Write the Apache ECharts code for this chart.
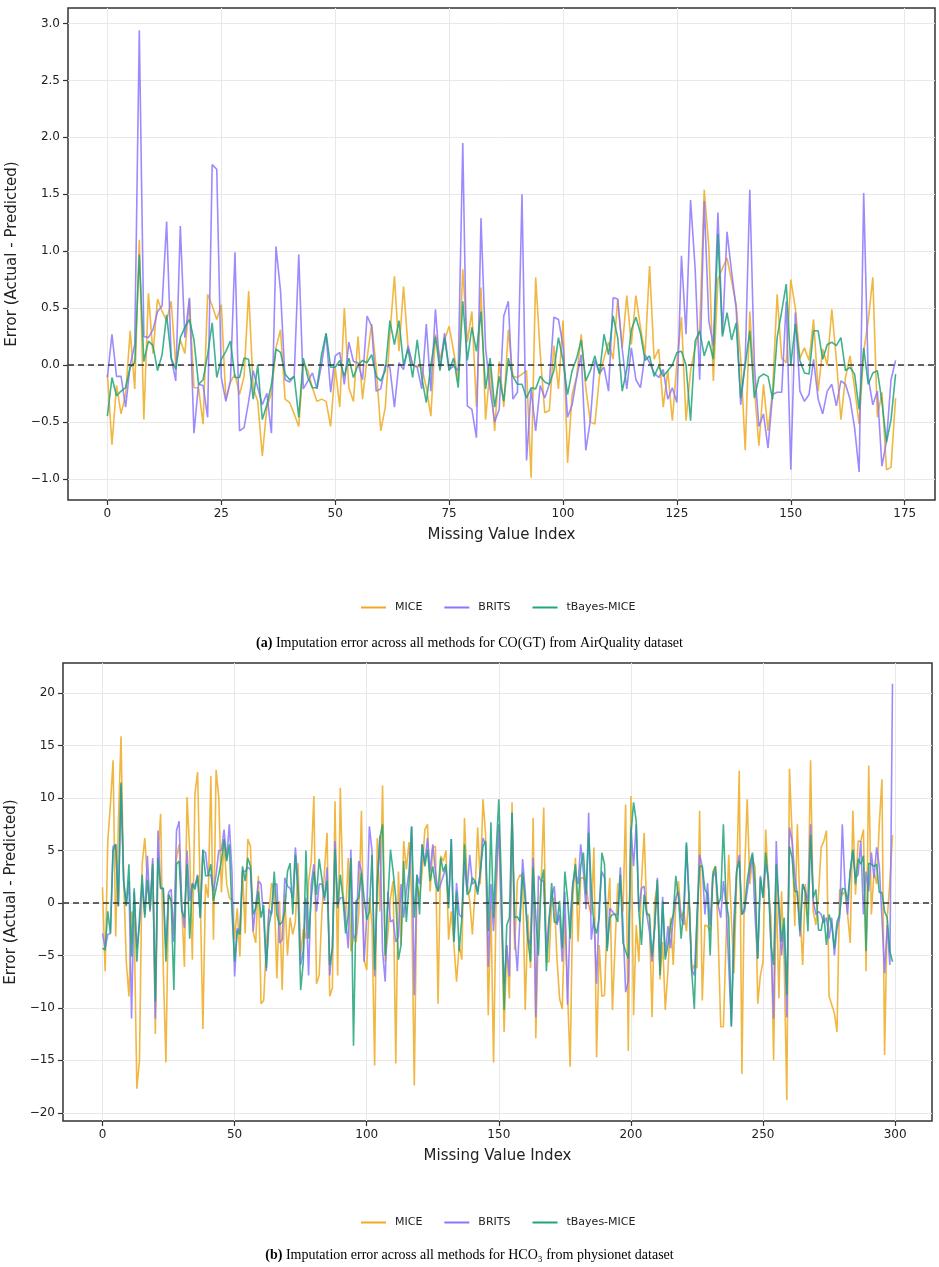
<!DOCTYPE html>
<html>
<head>
<meta charset="utf-8">
<title>Imputation error</title>
<script src="https://cdn.jsdelivr.net/npm/echarts@6/dist/echarts.min.js"></script>
<style>
  html, body { margin: 0; padding: 0; background: #fff; }
  #chart { width: 939px; height: 1267px; }
</style>
</head>
<body>
<div id="chart"></div>
<script>
// (a) CO(GT), AirQuality -- error per missing value index
const miceA = [
  -0.08, -0.70, -0.18, -0.43, -0.26, 0.30, -0.21, 1.10, -0.48, 0.63,
  0.10, 0.58, 0.47, 0.39, 0.56, 0.00, 0.22, 0.10, 0.58, -0.20,
  -0.20, -0.52, 0.62, 0.52, 0.40, 0.53, -0.30, -0.15, -0.08, -0.26,
  -0.10, 0.65, -0.20, -0.32, -0.80, -0.37, -0.25, 0.15, 0.31, -0.30,
  -0.33, -0.43, -0.54, 0.02, -0.05, -0.20, -0.32, -0.30, -0.32, -0.54,
  -0.02, -0.37, 0.50, -0.20, -0.32, 0.25, -0.30, 0.06, 0.36, -0.02,
  -0.58, -0.37, 0.27, 0.78, 0.12, 0.69, 0.15, 0.00, -0.01, -0.02,
  -0.20, -0.45, 0.27, 0.05, 0.22, 0.34, 0.12, -0.14, 0.84, 0.20,
  0.47, -0.37, 0.68, -0.48, -0.02, -0.58, 0.03, -0.37, 0.31, -0.10,
  -0.11, -0.08, -0.05, -0.99, 0.77, 0.10, -0.42, -0.40, 0.17, -0.21,
  0.39, -0.86, -0.26, -0.10, 0.27, -0.20, -0.50, -0.52, -0.10, 0.06,
  0.20, 0.05, 0.58, 0.15, 0.61, 0.18, 0.61, 0.33, 0.09, 0.87,
  0.05, 0.14, -0.37, -0.05, -0.49, 0.02, 0.42, -0.49, -0.05, 0.15,
  0.30, 1.54, 1.04, -0.14, 0.75, 0.85, 0.94, 0.74, 0.53, 0.06,
  -0.75, 0.47, -0.20, -0.71, -0.17, -0.58, -0.23, 0.62, 0.06, 0.02,
  0.75, 0.50, 0.06, 0.15, 0.04, 0.40, -0.23, 0.14, 0.00, 0.49,
  0.05, -0.48, -0.11, 0.08, -0.20, -0.52, 0.12, 0.39, 0.77, -0.46,
  -0.24, -0.92, -0.90, -0.29
];
const britsA = [
  -0.11, 0.27, -0.10, -0.10, -0.37, 0.00, 0.18, 2.94, 0.25, 0.24,
  0.31, 0.47, 0.52, 1.26, 0.06, -0.14, 1.22, 0.24, 0.59, -0.60,
  -0.17, -0.18, -0.46, 1.76, 1.72, -0.11, -0.32, -0.14, 0.99, -0.58,
  -0.55, -0.32, -0.05, -0.20, -0.35, -0.25, -0.60, 1.04, 0.65, -0.13,
  -0.15, -0.10, 0.97, -0.21, -0.14, -0.07, -0.21, 0.00, 0.27, -0.24,
  0.08, 0.11, -0.17, 0.20, 0.03, 0.02, -0.13, 0.43, 0.34, -0.23,
  -0.21, 0.00, -0.02, -0.37, 0.02, -0.04, 0.17, 0.00, -0.02, -0.21,
  0.36, -0.23, 0.49, -0.04, 0.28, -0.04, -0.01, -0.05, 1.95, -0.36,
  -0.39, -0.64, 1.29, 0.15, -0.21, -0.50, -0.39, 0.43, 0.56, -0.30,
  -0.24, 1.50, -0.84, -0.21, -0.58, -0.18, -0.29, -0.17, 0.42, 0.40,
  0.17, -0.46, -0.35, -0.11, 0.09, -0.75, -0.49, 0.04, -0.07, -0.02,
  -0.23, 0.59, 0.58, 0.14, -0.21, 0.15, -0.13, -0.20, 0.09, 0.02,
  -0.07, -0.11, -0.04, -0.30, -0.20, -0.33, 0.96, 0.27, 1.45, 0.85,
  -0.13, 1.44, 0.39, 0.17, 1.34, 0.27, 1.17, 0.82, 0.50, -0.35,
  0.04, 1.54, 0.00, -0.54, -0.43, -0.73, -0.26, -0.24, -0.24, 0.56,
  -0.92, 0.46, -0.23, -0.32, -0.26, 0.05, -0.30, -0.43, -0.23, -0.17,
  -0.36, -0.14, -0.17, -0.30, -0.55, -0.94, 1.51, -0.11, -0.35, -0.23,
  -0.89, -0.67, -0.13, 0.04
];
const tbayesA = [
  -0.45, -0.11, -0.27, -0.23, -0.20, -0.02, 0.02, 0.97, 0.03, 0.21,
  0.17, -0.05, 0.09, 0.44, 0.06, -0.04, 0.24, 0.33, 0.40, 0.22,
  -0.17, -0.13, 0.09, 0.37, -0.11, 0.05, 0.12, 0.21, -0.11, -0.11,
  0.06, 0.05, -0.30, 0.00, -0.48, -0.35, -0.17, 0.14, 0.11, -0.08,
  -0.13, -0.10, -0.46, 0.06, -0.11, -0.20, -0.20, 0.09, 0.28, -0.02,
  -0.02, 0.04, -0.10, 0.06, -0.11, 0.00, 0.04, 0.02, 0.09, -0.10,
  -0.14, -0.05, 0.39, 0.18, 0.39, 0.00, 0.14, -0.11, 0.22, -0.11,
  -0.33, 0.00, 0.25, -0.05, 0.24, -0.05, 0.06, -0.20, 0.56, 0.04,
  0.33, 0.12, 0.47, -0.21, 0.06, -0.37, -0.10, -0.32, 0.06, -0.10,
  -0.17, -0.17, -0.29, -0.20, -0.21, -0.10, -0.15, -0.17, -0.05, 0.24,
  0.04, -0.26, -0.05, 0.06, 0.22, -0.14, -0.05, 0.08, -0.08, 0.27,
  0.09, 0.43, 0.24, -0.23, -0.04, 0.31, 0.42, 0.28, 0.04, 0.08,
  -0.10, -0.01, -0.10, -0.05, 0.00, 0.11, 0.12, 0.00, -0.49, 0.21,
  0.30, 0.08, 0.21, 0.05, 1.15, 0.25, 0.46, 0.22, 0.37, -0.29,
  0.00, 0.30, -0.29, -0.11, -0.08, -0.10, -0.30, 0.24, 0.47, 0.71,
  0.00, 0.36, 0.04, -0.07, -0.08, 0.30, 0.30, 0.05, 0.18, 0.20,
  0.17, 0.24, -0.05, -0.02, -0.08, -0.39, 0.15, -0.17, -0.07, -0.05,
  -0.32, -0.68, -0.48, -0.08
];

// (b) HCO3, physionet
const miceB = [
  1.5, -6.5, 5.9, 9.4, 13.6, -3.2, 7.5, 15.9, 2.4, -5.6,
  -8.9, -0.8, -2.0, -17.7, -15.0, 3.7, 6.2, 2.1, -0.8, 4.0,
  -12.5, 4.3, 8.5, -6.2, -15.2, 0.8, 0.2, -3.0, 4.3, 5.6,
  -0.2, -6.1, 10.1, 5.0, -5.4, 10.4, 12.5, 0.5, -12.0, 1.8,
  0.5, 12.1, -3.5, 12.7, 10.1, 1.0, 5.9, 1.8, 0.5, 0.3,
  -3.4, -0.5, -5.1, 3.2, -2.9, 6.1, 5.4, -2.7, -3.8, 2.6,
  -9.6, -9.3, -4.0, -0.8, 1.9, 1.1, -7.2, 0.2, -8.3, 0.8,
  -5.0, -1.4, -3.0, -1.8, 3.8, -5.0, -2.5, -3.4, 2.1, 4.0,
  10.2, -7.7, -6.9, -1.1, 3.0, 6.7, -8.9, -8.1, 9.7, -6.9,
  11.0, 1.1, -1.4, 4.3, -4.6, -3.4, -3.7, -1.0, 8.8, -5.4,
  -6.4, 0.5, -2.0, -15.5, 6.2, -0.8, 11.2, -5.6, -3.0, 0.5,
  2.1, -15.3, 3.0, -4.0, 5.9, 3.2, 5.8, 0.5, -17.4, 1.8,
  0.5, 3.0, 7.0, 7.5, 1.1, 5.3, 5.4, -9.6, 4.5, 4.0,
  5.0, -3.5, -0.8, -4.0, -7.5, -4.0, -5.4, 8.1, 1.8, 0.2,
  -3.0, 1.1, 7.2, 1.8, 9.9, 6.5, -10.7, -0.2, -15.2, 0.5,
  7.5, -1.1, -12.3, -4.0, -9.1, 9.6, -4.5, 2.1, 2.7, 2.4,
  -10.2, -1.1, -6.2, 8.1, -12.9, -2.1, 1.8, 9.1, -5.6, -5.6,
  0.2, 0.5, -5.3, -9.1, -10.1, -1.1, -8.4, -15.6, 0.5, 4.3,
  -3.7, 2.4, 2.4, 1.8, -0.2, -1.1, 5.3, -14.7, -4.0, -8.9,
  -8.8, -1.4, 2.4, -10.2, -4.0, 1.8, 1.8, -0.8, 9.4, -14.1,
  10.2, -10.7, -2.1, -5.6, 2.0, 6.7, -0.8, -1.4, -10.9, 0.2,
  1.8, -7.3, -3.7, -10.2, -6.5, -1.4, -5.9, 0.2, 2.1, -1.4,
  -0.8, -2.7, 1.1, -6.5, -5.9, -6.2, 8.8, -9.3, -2.1, -2.2,
  -2.7, 3.0, 3.5, -3.0, -11.8, -11.8, -3.7, 4.6, -1.4, -6.7,
  2.1, 12.6, -16.3, 2.7, 9.9, 1.8, 4.3, 3.4, -9.6, -6.9,
  -5.6, 7.0, 1.8, -1.4, -15.0, 1.8, -9.1, 1.1, -5.6, -18.8,
  12.8, 6.5, -2.2, 7.5, -0.8, -5.9, 1.8, -1.1, 13.6, -0.8,
  -2.1, 0.8, 5.3, 5.9, 6.9, -8.9, -9.7, -10.5, -12.3, 1.3,
  0.8, 1.1, -1.1, -3.8, 8.8, 0.8, 5.9, 5.9, 7.0, -6.5,
  13.1, -1.1, 3.0, 1.8, 7.5, 11.8, -14.5, -1.4, 2.0, 6.5
];
const britsB = [
  -2.9, -4.3, -3.0, -2.9, 5.4, 5.6, -0.3, 11.3, 2.1, -0.2,
  2.1, -11.0, 1.1, -4.3, -2.1, 1.8, -1.1, 4.5, -0.8, 4.3,
  -11.0, 6.9, 1.4, 1.4, -4.3, 1.0, 1.3, -3.7, 6.9, 7.8,
  -0.2, -2.4, 5.0, 0.2, 1.9, 1.6, 2.7, -1.4, 5.0, 4.8,
  2.6, 2.7, 1.1, 2.7, 5.0, 5.0, 7.0, 4.2, 7.5, 3.0,
  -7.0, -2.4, -2.7, 3.0, 3.0, 3.4, 3.2, -2.7, -0.2, 2.1,
  1.8, -1.4, -6.5, -0.6, -1.1, 1.8, 1.8, -3.8, -3.5, 2.4,
  1.6, 1.4, 0.5, 5.3, 1.8, -5.9, -4.6, 0.5, -6.9, 1.8,
  3.7, -0.8, 1.8, 1.8, 0.2, 3.4, -6.9, -4.3, 5.9, -0.2,
  0.5, 0.5, -1.4, -4.3, 5.1, -3.4, -3.0, 4.0, 3.0, -5.6,
  -1.4, 7.3, 5.0, -7.0, 1.8, 6.4, -4.6, -7.5, 1.1, -1.8,
  -1.6, -3.7, -3.2, 1.8, -1.4, 1.1, 3.0, 7.3, -8.8, 2.7,
  1.8, 5.6, 3.7, 6.2, 3.0, 5.6, 3.0, 1.1, 1.8, 2.6,
  3.4, 0.0, 6.1, -3.7, 1.9, -1.1, -1.4, 4.0, 1.1, 4.6,
  1.8, 2.1, 1.1, 3.0, 6.2, 5.6, -6.1, 1.8, -2.7, 2.4,
  7.5, -1.4, -7.8, -4.0, -7.0, 8.6, -3.0, -6.5, -1.4, 4.2,
  1.1, -3.4, -4.0, 4.3, -10.9, 2.6, 2.1, 2.1, -4.6, -1.4,
  0.5, 1.6, -2.1, -1.1, -5.6, 1.1, -9.7, -1.4, 1.8, 3.0,
  1.8, 5.6, 3.0, -0.6, 8.6, -3.5, -1.4, -7.7, -0.2, 3.0,
  2.4, -4.3, -0.5, -0.8, -1.1, -1.1, 3.4, -2.1, -8.5, -7.5,
  7.2, 3.5, 7.5, -0.8, 1.4, 1.6, -1.1, -2.7, -5.6, -2.1,
  2.4, -6.5, 0.6, -5.1, -2.2, -4.3, -1.4, 0.5, 1.1, -1.4,
  -2.1, 5.6, 0.2, -6.4, -6.9, -1.4, 4.6, 3.5, -1.1, 1.9,
  -2.1, 2.4, 3.0, -0.2, -1.4, 2.1, -0.2, -5.8, -11.7, -1.4,
  3.0, 4.6, -1.1, -0.8, 1.1, 3.0, 4.6, -1.4, -5.3, 2.6,
  0.5, 3.7, 2.4, -4.0, -11.0, 5.9, -1.0, -5.0, -2.1, -10.9,
  7.2, 5.9, 2.7, 0.8, -3.2, 1.8, 1.1, 0.2, 7.5, 0.2,
  -1.1, -0.8, -1.1, -1.9, -1.4, -3.4, -1.4, -5.0, -2.4, -1.4,
  7.5, 1.8, -1.1, 3.0, 5.0, 2.4, 2.7, 5.9, -1.1, 3.0,
  1.1, 4.8, 2.4, 5.3, 3.5, -1.4, -6.7, -2.1, -5.9, 20.9
];
const tbayesB = [
  -4.3, -4.5, -0.8, -2.9, 5.0, 5.6, -0.3, 11.5, 2.1, -0.3,
  3.7, -5.1, 1.4, -5.6, -1.4, 2.7, -1.4, 2.2, -0.6, 3.7,
  -9.4, 4.3, 1.4, 1.4, -5.6, 0.8, 0.2, -8.3, 3.7, 4.0,
  -0.8, -1.4, 3.7, -3.4, 1.8, 1.3, 2.6, -1.4, 5.1, 2.6,
  2.6, 3.7, 0.2, 1.4, 2.7, 4.0, 6.1, 4.0, 5.6, -0.8,
  -5.6, -2.6, -3.0, 3.5, 2.1, 4.3, 3.5, -1.1, -0.5, 1.1,
  -1.4, -0.2, -6.2, -2.1, -0.8, 3.0, -1.1, -2.1, -1.8, -0.8,
  3.0, 3.8, -1.1, 4.6, 1.1, -8.3, -5.6, 5.0, -3.4, 0.5,
  3.0, 0.8, 4.2, 2.4, 0.5, 2.1, -5.9, -4.3, 5.1, -0.5,
  2.7, 0.5, -2.9, -1.1, 4.3, -13.6, 0.2, 0.5, 2.9, 0.5,
  -1.6, -0.8, 4.6, -6.4, 1.8, 6.2, 7.5, -5.0, 0.2, 5.1,
  3.0, 0.5, -5.4, -4.0, 4.0, -1.8, 1.8, 7.3, -1.4, 2.7,
  -1.1, 5.6, 3.5, 5.1, 2.1, 3.5, 1.8, 1.1, 4.3, 3.0,
  3.7, -0.5, 6.1, -3.7, 1.1, -4.6, -1.4, 5.6, 0.8, 1.1,
  2.4, 2.1, 0.8, 3.0, 5.4, 5.9, -2.7, 7.7, -1.4, 5.0,
  9.9, 1.8, -10.2, -2.1, -1.4, 8.6, -1.4, -1.3, -1.8, 2.9,
  0.2, -3.5, -5.6, 3.4, -1.4, -5.0, 1.8, 3.2, -6.5, -2.1,
  1.9, -1.8, -1.9, 0.2, -4.3, 3.0, 0.5, -3.4, 1.8, 3.7,
  -0.2, 3.5, 4.8, 0.8, 6.7, 1.4, -2.1, -2.9, -1.4, 4.8,
  3.7, -4.6, -1.4, -1.1, -1.1, -1.8, 2.7, -3.8, -4.6, -5.3,
  6.5, 9.6, 7.8, -0.8, -4.0, 0.8, -1.1, -1.1, -5.1, -2.4,
  2.2, -6.9, 0.2, -5.4, -4.0, -2.1, -1.1, 2.6, 0.5, -3.4,
  -0.5, 5.8, 0.5, -6.5, -10.1, -1.4, 3.5, 3.5, 1.3, 0.8,
  -5.0, 2.7, 3.5, -0.2, 0.5, 7.5, 0.2, -1.4, -11.8, -3.4,
  3.0, 4.0, -1.1, -0.5, 2.1, 3.7, 4.8, 1.8, -5.3, 2.4,
  0.5, 4.8, 2.1, -4.0, -5.9, 3.7, 0.0, -3.7, -1.4, -8.8,
  5.4, 4.3, 1.1, 1.1, -2.7, 1.8, 1.1, -2.7, 6.5, 0.5,
  1.3, -2.6, -2.6, -1.1, -4.0, -1.1, -2.1, -4.3, -1.8, -1.1,
  1.4, 1.3, 0.2, 3.0, 5.1, 1.8, 4.2, 3.7, 4.5, -4.6,
  3.8, 3.7, 3.5, 3.7, 1.0, 1.0, -0.8, -1.4, -4.6, -5.6
];

// tick labels
const xTicksA = [0, 25, 50, 75, 100, 125, 150, 175];
const yTicksA = [-1, -0.5, 0, 0.5, 1, 1.5, 2, 2.5, 3];
const xTicksB = [0, 50, 100, 150, 200, 250, 300];
const yTicksB = [-20, -15, -10, -5, 0, 5, 10, 15, 20];

const methods = ['MICE', 'BRITS', 'tBayes-MICE'];
const colors = ['#eeaa22', '#8c75ff', '#1fa57a'];

const FONT = "'DejaVu Sans', sans-serif";
const SERIF = "'Liberation Serif', 'DejaVu Serif', serif";
const INK = '#222';

const fmtMinus = (s) => s.replace('-', '\u2212');

// matplotlib-style 5% margins around the data
function padded(arrays, n) {
  const all = [].concat(...arrays);
  const lo = Math.min(...all), hi = Math.max(...all);
  const dy = (hi - lo) * 0.05;
  const dx = (n - 1) * 0.05;
  return { x: [-dx, n - 1 + dx], y: [lo - dy, hi + dy] };
}

function xAxisFor(gridIndex, range, ticks) {
  return {
    type: 'value', gridIndex, min: range[0], max: range[1],
    name: 'Missing Value Index', nameLocation: 'middle', nameGap: 28,
    nameTextStyle: { fontSize: 15, color: INK, fontFamily: FONT },
    axisLine: { show: false, onZero: false },
    axisTick: { show: true, length: 5, customValues: ticks, lineStyle: { color: '#333', width: 1.2 } },
    axisLabel: { customValues: ticks, fontSize: 12, color: INK, margin: 8, fontFamily: FONT },
    splitLine: { show: true, lineStyle: { color: '#e8e8e8', width: 1 } }
  };
}

function yAxisFor(gridIndex, range, ticks, digits, gap) {
  return {
    type: 'value', gridIndex, min: range[0], max: range[1],
    name: 'Error (Actual - Predicted)', nameLocation: 'middle', nameGap: gap,
    nameTextStyle: { fontSize: 15, color: INK, fontFamily: FONT },
    axisLine: { show: false, onZero: false },
    axisTick: { show: true, length: 5, customValues: ticks, lineStyle: { color: '#333', width: 1.2 } },
    axisLabel: {
      customValues: ticks, fontSize: 12, color: INK, margin: 8, fontFamily: FONT,
      formatter: (v) => fmtMinus(v.toFixed(digits))
    },
    splitLine: { show: true, lineStyle: { color: '#e8e8e8', width: 1 } }
  };
}

function seriesFor(axisIndex, arrays) {
  return arrays.map((values, k) => {
    const s = {
      type: 'line', name: methods[k],
      xAxisIndex: axisIndex, yAxisIndex: axisIndex,
      data: values.map((v, i) => [i, v]),
      symbol: 'none', showSymbol: false,
      lineStyle: { color: colors[k], width: 1.6, opacity: 0.85 },
      itemStyle: { color: colors[k] },
      emphasis: { disabled: true },
      z: 2 + k
    };
    if (k === arrays.length - 1) {
      s.markLine = {
        silent: true, symbol: 'none', label: { show: false },
        lineStyle: { color: '#333', width: 1.5, type: [6, 4] },
        data: [{ yAxis: 0 }]
      };
    }
    return s;
  });
}

function legendAt(top) {
  return {
    left: 356, top, data: methods, icon: 'rect',
    itemWidth: 25, itemHeight: 2, itemGap: 22,
    selectedMode: false,
    textStyle: { fontSize: 11, color: INK, fontFamily: FONT, padding: [0, 0, 0, 4] }
  };
}

const seriesA = [miceA, britsA, tbayesA];
const seriesB = [miceB, britsB, tbayesB];
const rangeA = padded(seriesA, miceA.length);
const rangeB = padded(seriesB, miceB.length);

const captionStyle = {
  fontFamily: SERIF, fontSize: 14, fontWeight: 'normal', color: '#000',
  rich: { b: { fontFamily: SERIF, fontSize: 14, fontWeight: 'bold', color: '#000' } }
};

const chart = echarts.init(document.getElementById('chart'));
chart.setOption({
  animation: false,
  backgroundColor: '#fff',
  grid: [
    { left: 68, top: 8, width: 867, height: 492, show: true, borderColor: '#333', borderWidth: 1.5, outerBoundsMode: 'none' },
    { left: 63, top: 663, width: 869, height: 458, show: true, borderColor: '#333', borderWidth: 1.5, outerBoundsMode: 'none' }
  ],
  xAxis: [xAxisFor(0, rangeA.x, xTicksA), xAxisFor(1, rangeB.x, xTicksB)],
  yAxis: [yAxisFor(0, rangeA.y, yTicksA, 1, 41), yAxisFor(1, rangeB.y, yTicksB, 0, 38)],
  legend: [legendAt(597), legendAt(1212)],
  title: [
    {
      text: '{b|(a)} Imputation error across all methods for CO(GT) from AirQuality dataset',
      left: 'center', top: 631, textStyle: captionStyle
    },
    {
      text: '{b|(b)} Imputation error across all methods for HCO\u2083 from physionet dataset',
      left: 'center', top: 1243, textStyle: captionStyle
    }
  ],
  series: [...seriesFor(0, seriesA), ...seriesFor(1, seriesB)]
});
</script>
</body>
</html>
